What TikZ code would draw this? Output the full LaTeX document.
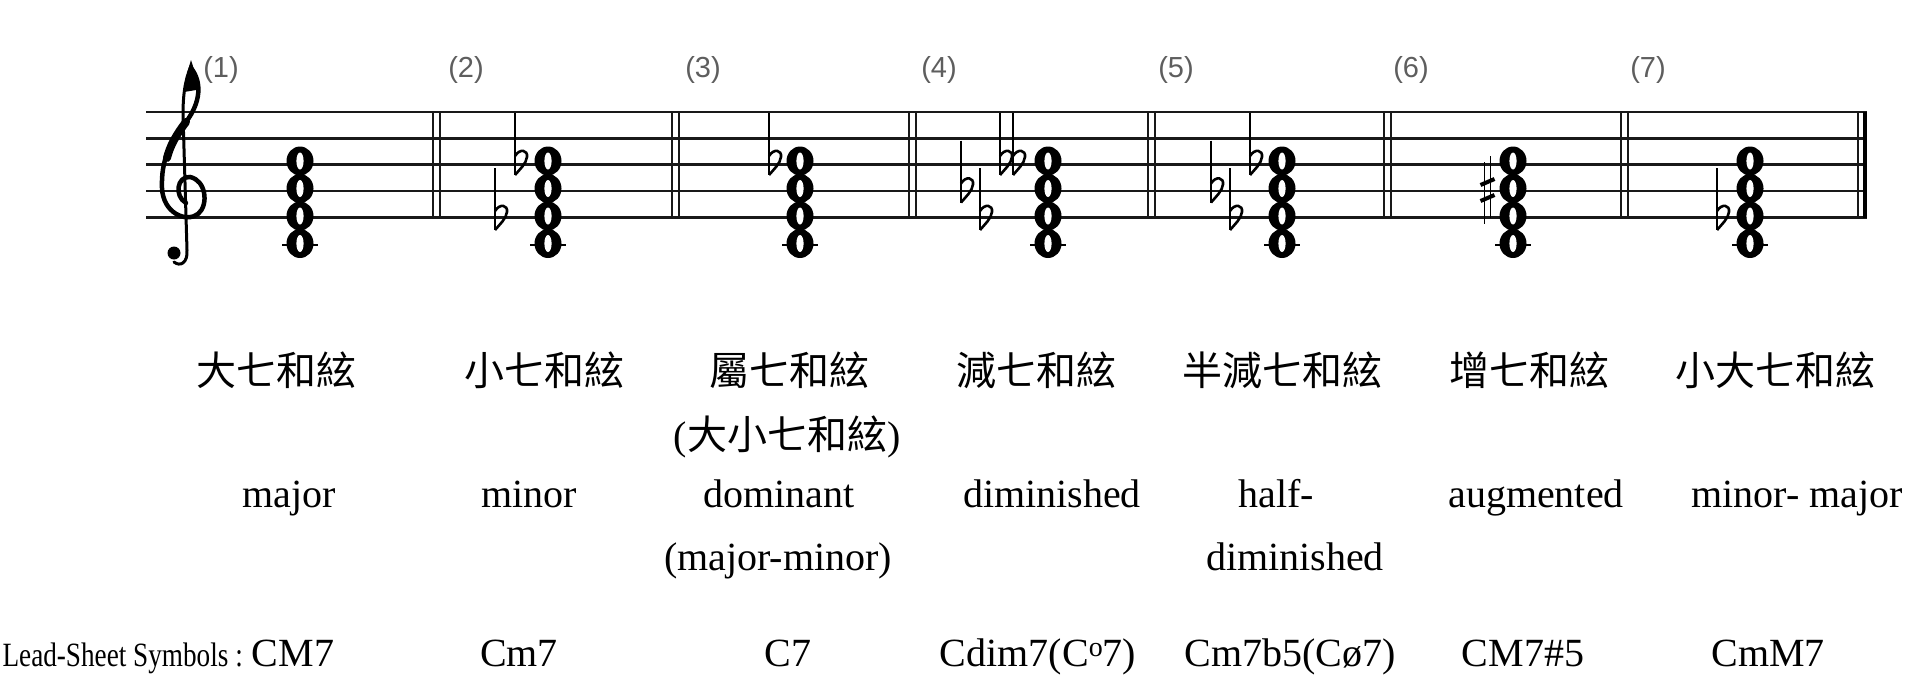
\documentclass[tikz,border=0pt]{standalone}
\usepackage{fontspec}
\usepackage{graphicx}
\setmainfont{Liberation Serif}
\newfontfamily\cjk{Noto Sans CJK TC}
\newfontfamily\lblfont{Liberation Sans}
\definecolor{labelgray}{HTML}{5E5E5E}
\tikzset{
  staffline/.style={line width=2.6pt, black!90},
  barline/.style={line width=1.6pt, black!90},
  txt/.style={inner sep=0pt, anchor=base, font=\fontsize{40}{48}\selectfont},
  zh/.style={inner sep=0pt, anchor=base, font=\cjk\fontsize{40}{48}\selectfont},
  lbl/.style={inner sep=0pt, anchor=base, text=labelgray, font=\lblfont\fontsize{29}{34}\selectfont},
  flatsign/.pic={
    \draw[line width=1.6pt] (0,-48) -- (0,14);
    \draw[line width=2.6pt] (0,-5) .. controls (5,-13) and (13,-11) .. (12,-4)
         .. controls (11,3) and (5,8) .. (0,14);
  },
  sharpsign/.pic={
    \draw[line width=1.5pt] (-3,-28) -- (-3,34) (3,-34) -- (3,28);
    \draw[line width=4pt] (-7,-5) -- (7,-11) (-7,11) -- (7,5);
  },
  wholenote/.pic={
    \fill (0,0) ellipse [x radius=13.5, y radius=14.5];
    \fill[white] (0,0) ellipse [x radius=3.6, y radius=8.5];
  }
}
\newcommand\chordat[1]{%
  \draw[line width=2.5pt] (#1-18,245) -- (#1+18,245);
  \foreach \yy in {161,188.5,216,243.5} \pic at (#1,\yy) {wholenote};
}
\begin{document}
\begin{tikzpicture}[x=1pt,y=-1pt]
\fill[white] (0,0) rectangle (1916,689);
\useasboundingbox (0,0) rectangle (1916,689);

% staff
\foreach \yy in {112,138.5,164.5,191,217.5} \draw[staffline] (146,\yy) -- (1867,\yy);
\foreach \xx in {433,672,909,1148,1384,1621} {
  \draw[barline] (\xx,112) -- (\xx,217.5);
  \draw[barline] (\xx+7,112) -- (\xx+7,217.5);
}
\draw[barline] (1858,112) -- (1858,217.5);
\draw[line width=4pt] (1864.5,112) -- (1864.5,217.5);

% treble clef
\draw[line width=4.5pt, line cap=round]
  (191,68) .. controls (202,82) and (201,102) .. (186,122)
  .. controls (170,142) and (161,160) .. (162,188)
  .. controls (163,213) and (186,223) .. (198,214)
  .. controls (209,205) and (206,180) .. (190,177)
  .. controls (177,176) and (174,196) .. (186,203);
\draw[line width=8pt, line cap=round] (186,122) .. controls (176,135) and (170,146) .. (167,158);
\draw[line width=3pt, line cap=round]
  (191,66) .. controls (185,80) and (183,95) .. (183,115) -- (187,250)
  .. controls (188,263) and (180,267) .. (174,262);
\fill (174,253) circle (6.5);
\fill (191,60) .. controls (195,72) and (197,80) .. (196,90) -- (184,92) .. controls (185,80) and (188,70) .. (191,60);

% chords
\chordat{300}
\chordat{548}
\chordat{800}
\chordat{1048}
\chordat{1282}
\chordat{1513}
\chordat{1750}

% accidentals
\pic at (495,216) {flatsign};
\pic at (515,161) {flatsign};
\pic at (769,161) {flatsign};
\pic at (961,188.5) {flatsign};
\pic at (980,216) {flatsign};
\pic at (1000,161) {flatsign};
\pic at (1013,161) {flatsign};
\pic at (1211,188.5) {flatsign};
\pic at (1230,216) {flatsign};
\pic at (1250,161) {flatsign};
\pic at (1487.5,190) {sharpsign};
\pic at (1717,216) {flatsign};

% numbers
\node[lbl] (n1) at (221,77) {(1)};
\node[lbl] (n2) at (466,77) {(2)};
\node[lbl] (n3) at (703,77) {(3)};
\node[lbl] (n4) at (939,77) {(4)};
\node[lbl] (n5) at (1176,77) {(5)};
\node[lbl] (n6) at (1411,77) {(6)};
\node[lbl] (n7) at (1648,77) {(7)};

% Chinese names
\node[zh] (z1) at (276,385) {大七和絃};
\node[zh] (z2) at (544,385) {小七和絃};
\node[zh] (z3) at (789,385) {屬七和絃};
\node[zh] (z4) at (1036,385) {減七和絃};
\node[zh] (z5) at (1282,385) {半減七和絃};
\node[zh] (z6) at (1529,385) {增七和絃};
\node[zh] (z7) at (1775,385) {小大七和絃};
\node[txt] (z3b) at (787,449) {({\cjk 大小七和絃})};

% English names
\node[txt] (e1) at (289,507) {major};
\node[txt] (e2) at (529,507) {minor};
\node[txt] (e3) at (779,507) {dominant};
\node[txt] (e3b) at (778,570) {(major-minor)};
\node[txt] (e4) at (1052,507) {diminished};
\node[txt] (e5) at (1276,507) {half-};
\node[txt] (e5b) at (1295,570) {diminished};
\node[txt] (e6) at (1536,507) {augmented};
\node[txt] (e7) at (1797,507) {minor- major};

% lead-sheet symbols
\node[inner sep=0pt, anchor=base east] (ls) at (243,666) {\scalebox{0.8}[1]{\fontsize{34}{40}\selectfont Lead-Sheet Symbols :}};
\node[txt] (s1) at (293,666) {CM7};
\node[txt] (s2) at (519,666) {Cm7};
\node[txt] (s3) at (788,666) {C7};
\node[txt] (s4) at (1038,666) {Cdim7(C\raisebox{10pt}{\fontsize{28}{30}\selectfont o}7)};
\node[txt] (s5) at (1290,666) {Cm7b5(Cø7)};
\node[txt] (s6) at (1523,666) {CM7\#5};
\node[txt] (s7) at (1768,666) {CmM7};
\end{tikzpicture}
\end{document}
